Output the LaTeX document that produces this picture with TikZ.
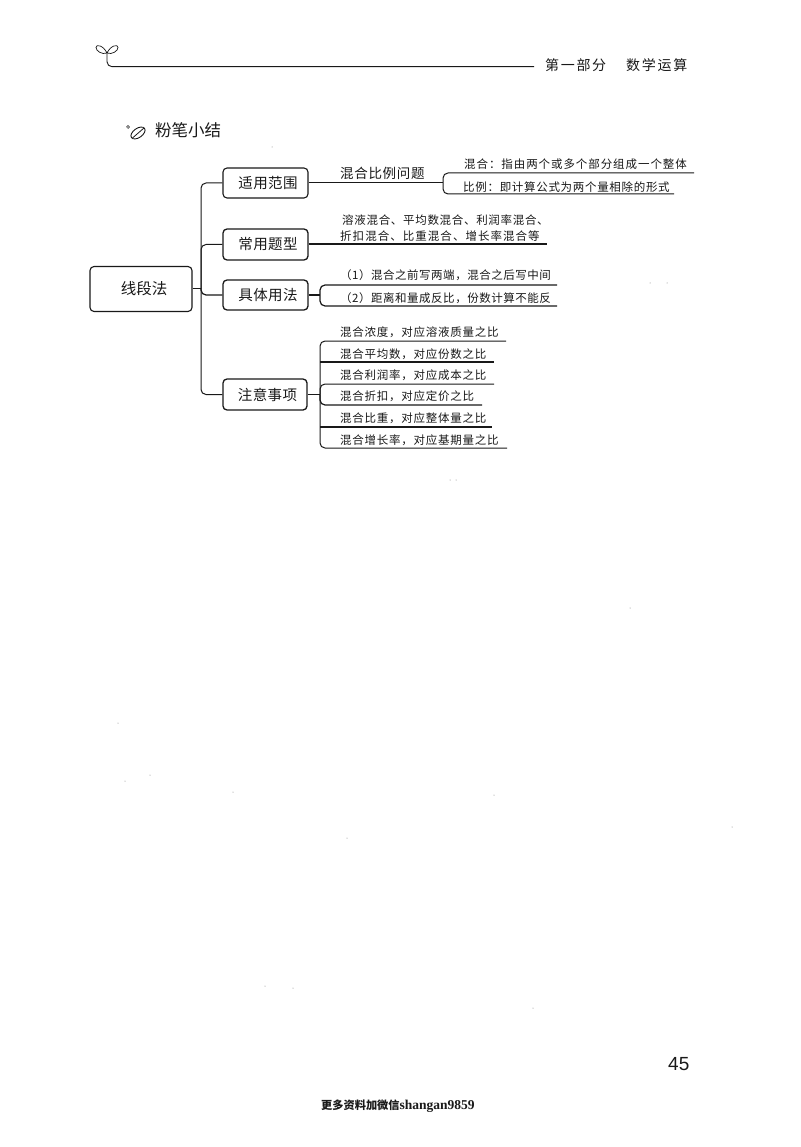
\documentclass[tikz,border=0pt]{standalone}
\usepackage{fontspec}
\newfontfamily\cjk{Noto Sans CJK SC}
\newfontfamily\latn{Liberation Sans}
\newfontfamily\latb{Liberation Serif}
\definecolor{ink}{gray}{0.1}
\tikzset{
  box/.style={draw=ink,line width=1.1pt,rounded corners=4pt,inner sep=0pt,text=ink,align=center},
  conn/.style={draw=ink,line width=1pt,rounded corners=5pt},
  lbl/.style={anchor=base west,inner sep=0pt,text=ink},
  big/.style={font=\cjk\fontsize{14.5}{16}\selectfont\addfontfeature{LetterSpace=3}},
  small/.style={font=\cjk\fontsize{11.5}{13}\selectfont\addfontfeature{LetterSpace=#1}},
  small/.default=11
}
\begin{document}
\begin{tikzpicture}[x=1pt,y=-1pt]
\useasboundingbox (0,0) rectangle (800,1147);
\fill[white] (0,0) rectangle (800,1147);
% header
\coordinate (hstem) at (107,53);
\coordinate (hend) at (534,66.7);
\draw[draw=ink,line width=.9pt,rounded corners=5pt] (hstem) |- (hend);
\draw[draw=ink,line width=.7pt] (hstem) .. controls (103,45) and (96,44) .. (96,47.5) .. controls (96,51) and (102,55) .. (hstem);
\draw[draw=ink,line width=.7pt] (hstem) .. controls (111,45) and (118,44) .. (118,47.5) .. controls (118,51) and (112,55) .. (hstem);
\node[lbl,font=\cjk\fontsize{14}{15}\selectfont\addfontfeature{LetterSpace=12}] (h1) at (545,71) {第一部分};
\node[lbl,font=\cjk\fontsize{14}{15}\selectfont\addfontfeature{LetterSpace=12}] (h2) at (626,71) {数学运算};
% heading
\draw[draw=ink,line width=.5pt] (128,127) circle (1.4);
\draw[draw=ink,line width=.9pt,rotate around={35:(138,133)}] (138,133) ellipse (8 and 4.6);
\draw[draw=ink,line width=.8pt] (132.5,138) -- (144,128);
\node[lbl,font=\cjk\fontsize{16.5}{18}\selectfont] (title) at (155,137) {粉笔小结};
% boxes
\node[box,minimum width=102pt,minimum height=45pt,font=\cjk\fontsize{15.5}{18}\selectfont] (root) at (141,289) {\hspace*{6pt}线段法};
\node[box,big,minimum width=85pt,minimum height=30pt] (b1) at (265.5,183) {\hspace*{5pt}适用范围};
\node[box,big,minimum width=85pt,minimum height=31pt,line width=1.3pt] (b2) at (265.5,244.5) {\hspace*{5pt}常用题型};
\node[box,big,minimum width=85pt,minimum height=30pt,line width=1.3pt] (b3) at (265.5,295) {\hspace*{5pt}具体用法};
\node[box,big,minimum width=84pt,minimum height=31pt,line width=1.3pt] (b4) at (265,394.5) {\hspace*{5pt}注意事项};
% trunk
\coordinate (trunk) at (201,289);
\draw[conn] (root.east) -- (trunk);
\draw[conn] (b1.west) -| (trunk) |- (b4.west);
\draw[conn] (b2.west) -| (trunk);
\draw[conn,line width=1.2pt] (trunk) |- (b3.west);
% range
\node[lbl,big,font=\cjk\fontsize{13.5}{16}\selectfont\addfontfeature{LetterSpace=5}] (t0) at (340,179) {混合比例问题};
\coordinate (k1) at (443,183);
\coordinate (e1a) at (694,173);
\coordinate (e1b) at (674,194);
\draw[conn] (b1.east) -- (k1);
\draw[conn] (e1a) -| (k1) |- (e1b);
\node[lbl,small=8] (t1a) at (464,168.5) {混合：指由两个或多个部分组成一个整体};
\node[lbl,small=6] (t1b) at (463,191.5) {比例：即计算公式为两个量相除的形式};
% types
\coordinate (e2) at (547,244);
\draw[conn,line width=1.2pt] (b2.east |- e2) -- (e2);
\node[lbl,small=6] (t2a) at (342,224.5) {溶液混合、平均数混合、利润率混合、};
\node[lbl,small=9] (t2b) at (340,240.5) {折扣混合、比重混合、增长率混合等};
% usage
\coordinate (k3) at (320,295);
\coordinate (e3a) at (557,285);
\coordinate (e3b) at (557,306);
\draw[conn,line width=1.2pt] (b3.east) -- (k3);
\draw[conn,line width=1.2pt] (e3a) -| (k3) |- (e3b);
\node[lbl,small=4.5] (t3a) at (340,279.5) {（1）混合之前写两端，混合之后写中间};
\node[lbl,small=4.5] (t3b) at (340,302.5) {（2）距离和量成反比，份数计算不能反};
% notes
\coordinate (k4) at (320,394.5);
\coordinate (e4a) at (506,341);
\coordinate (e4b) at (494,362);
\coordinate (e4c) at (494,384);
\coordinate (e4d) at (482,405);
\coordinate (e4e) at (492,427);
\coordinate (e4f) at (507,448);
\draw[conn] (b4.east) -- (k4);
\draw[conn] (e4a) -| (k4) |- (e4f);
\draw[conn,line width=1.2pt] (k4 |- e4b) -- (e4b);
\draw[conn] (e4c) -| (k4);
\draw[conn,line width=1.2pt] (k4) |- (e4d);
\draw[conn,line width=1.2pt] (k4 |- e4e) -- (e4e);
\node[lbl,small=6.5] (n1) at (340,336.5) {混合浓度，对应溶液质量之比};
\node[lbl,small=6.5] (n2) at (340,358.5) {混合平均数，对应份数之比};
\node[lbl,small=6.5] (n3) at (340,379.5) {混合利润率，对应成本之比};
\node[lbl,small=6.5] (n4) at (340,400.5) {混合折扣，对应定价之比};
\node[lbl,small=6.5] (n5) at (340,422.5) {混合比重，对应整体量之比};
\node[lbl,small=6.5] (n6) at (340,444.5) {混合增长率，对应基期量之比};
% page number, footer
\node[lbl,font=\latn\fontsize{19}{20}\selectfont] (page) at (668,1070) {45};
\node[lbl,font=\fontsize{11.2}{13}\selectfont] (foot) at (321,1109) {{\cjk\bfseries 更多资料加微信}{\latb\bfseries\fontsize{13.5}{13}\selectfont shangan9859}};
% scan specks
\foreach \p in {(118,723),(150,775),(125,781),(233,792),(347,838),(494,795),(732,827),(630,608),(265,986),(293,988),(533,1008),(450,480),(456,480),(650,283),(667,283),(272,147)}
  \fill[gray] \p circle (.5);
\end{tikzpicture}
\end{document}
